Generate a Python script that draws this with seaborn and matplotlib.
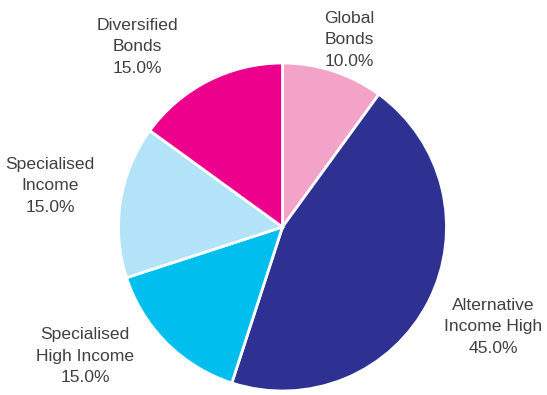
import matplotlib
matplotlib.use("Agg")
import matplotlib.pyplot as plt
import seaborn as sns

# Data
categories = ["Global\nBonds", "Alternative\nIncome High", "Specialised\nHigh Income",
              "Specialised\nIncome", "Diversified\nBonds"]
values = [10.0, 45.0, 15.0, 15.0, 15.0]
colors_hex = ["#F2A3C7", "#2E3192", "#00BFEF", "#B3E3F8", "#EC008C"]

sns.set_theme(style="white")
plt.rcParams['font.family'] = ['Liberation Sans', 'DejaVu Sans']
palette = sns.color_palette(colors_hex)

W, H = 547, 395
fig = plt.figure(figsize=(W / 100, H / 100), dpi=100)
ax = fig.add_axes([0, 0, 1, 1])

cx, cy, r = 282.5, 227, 164
ax.pie(values, colors=palette, startangle=90, counterclock=False,
       wedgeprops=dict(edgecolor="white", linewidth=2), radius=1.0, center=(0, 0))

ax.set_xlim((0 - cx) / r, (W - cx) / r)
ax.set_ylim((cy - H) / r, cy / r)
ax.set_aspect("auto")
ax.axis("off")

# label centres in pixel coordinates (layout only)
label_px = [(349, 40), (493, 327), (85, 356), (50, 186), (137, 47)]
for cat, val, (px, py) in zip(categories, values, label_px):
    ax.text((px - cx) / r, (cy - py) / r, f"{cat}\n{val:.1f}%",
            ha="center", va="center", fontsize=12.6, color="#404040", linespacing=1.55)

fig.savefig("out.png", dpi=100)
